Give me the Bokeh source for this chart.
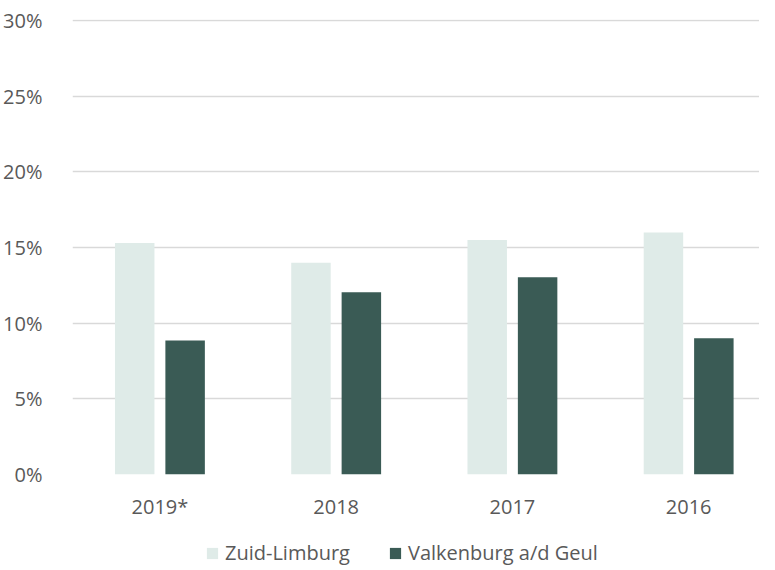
import numpy as np
from bokeh.plotting import figure
from bokeh.layouts import column
from bokeh.models import ColumnDataSource, Range1d, FixedTicker, Legend, LegendItem
from bokeh.transform import dodge
from bokeh.embed import file_html
from bokeh.resources import INLINE

years = ["2019*", "2018", "2017", "2016"]
zuid_limburg = [15.3, 14.0, 15.5, 16.0]
valkenburg = [8.85, 12.05, 13.03, 9.0]
y_ticks = [0, 5, 10, 15, 20, 25, 30]
series_names = ["Zuid-Limburg", "Valkenburg a/d Geul"]
series_colors = ["#dfebe8", "#3a5b55"]

src = ColumnDataSource(dict(x=list(range(len(years))), zl=zuid_limburg, vg=valkenburg))

FONT = "Open Sans"
LABEL_COLOR = "#595959"

p = figure(width=759, height=528, output_backend="svg", toolbar_location=None,
           x_range=Range1d(-0.496, 3.402), y_range=Range1d(0, 30.07),
           min_border_left=64, min_border_right=0, min_border_top=19, min_border_bottom=54)
p.outline_line_color = None
p.background_fill_color = "white"
p.border_fill_color = "white"

p.vbar(x=dodge("x", -0.143, range=p.x_range), top="zl", width=0.224, source=src,
       fill_color=series_colors[0], line_color=None)
p.vbar(x=dodge("x", 0.143, range=p.x_range), top="vg", width=0.224, source=src,
       fill_color=series_colors[1], line_color=None)

p.xaxis.ticker = FixedTicker(ticks=list(range(len(years))))
p.xaxis.major_label_overrides = {i: y for i, y in enumerate(years)}
p.yaxis.ticker = FixedTicker(ticks=y_ticks)
p.yaxis.major_label_overrides = {t: f"{t}%" for t in y_ticks}

for ax in (p.xaxis, p.yaxis):
    ax.axis_line_color = None
    ax.major_tick_line_color = None
    ax.minor_tick_line_color = None
    ax.major_label_text_font = FONT
    ax.major_label_text_font_size = "20px"
    ax.major_label_text_color = LABEL_COLOR
p.yaxis.major_label_standoff = 24
p.xaxis.major_label_standoff = 12

p.xgrid.grid_line_color = None
p.ygrid.grid_line_color = "#d9d9d9"
p.ygrid.grid_line_width = 1.5

# legend strip below the chart (its frame is aligned with the chart's frame)
lg = figure(width=759, height=38, output_backend="svg", toolbar_location=None,
            x_range=Range1d(0, 1), y_range=Range1d(0, 1),
            min_border=0, min_border_left=0, min_border_right=0,
            min_border_top=0, min_border_bottom=0)
lg.axis.visible = False
lg.grid.visible = False
lg.outline_line_color = None
lg.border_fill_color = "white"
legend_src = ColumnDataSource(dict(x=[np.nan], top=[np.nan]))
rs = [lg.vbar(x="x", top="top", width=0.1, source=legend_src, fill_color=c, line_color=None)
      for c in series_colors]

legend = Legend(items=[LegendItem(label=n, renderers=[r]) for n, r in zip(series_names, rs)],
                orientation="horizontal", location=(133, 0),
                background_fill_alpha=0, border_line_color=None,
                padding=0, margin=0, spacing=38,
                glyph_width=14, glyph_height=14, label_standoff=6,
                label_text_font=FONT, label_text_font_size="20px",
                label_text_color=LABEL_COLOR)
lg.add_layout(legend)

layout = column(p, lg, spacing=0)
open("out.html", "w").write(file_html(layout, INLINE))
